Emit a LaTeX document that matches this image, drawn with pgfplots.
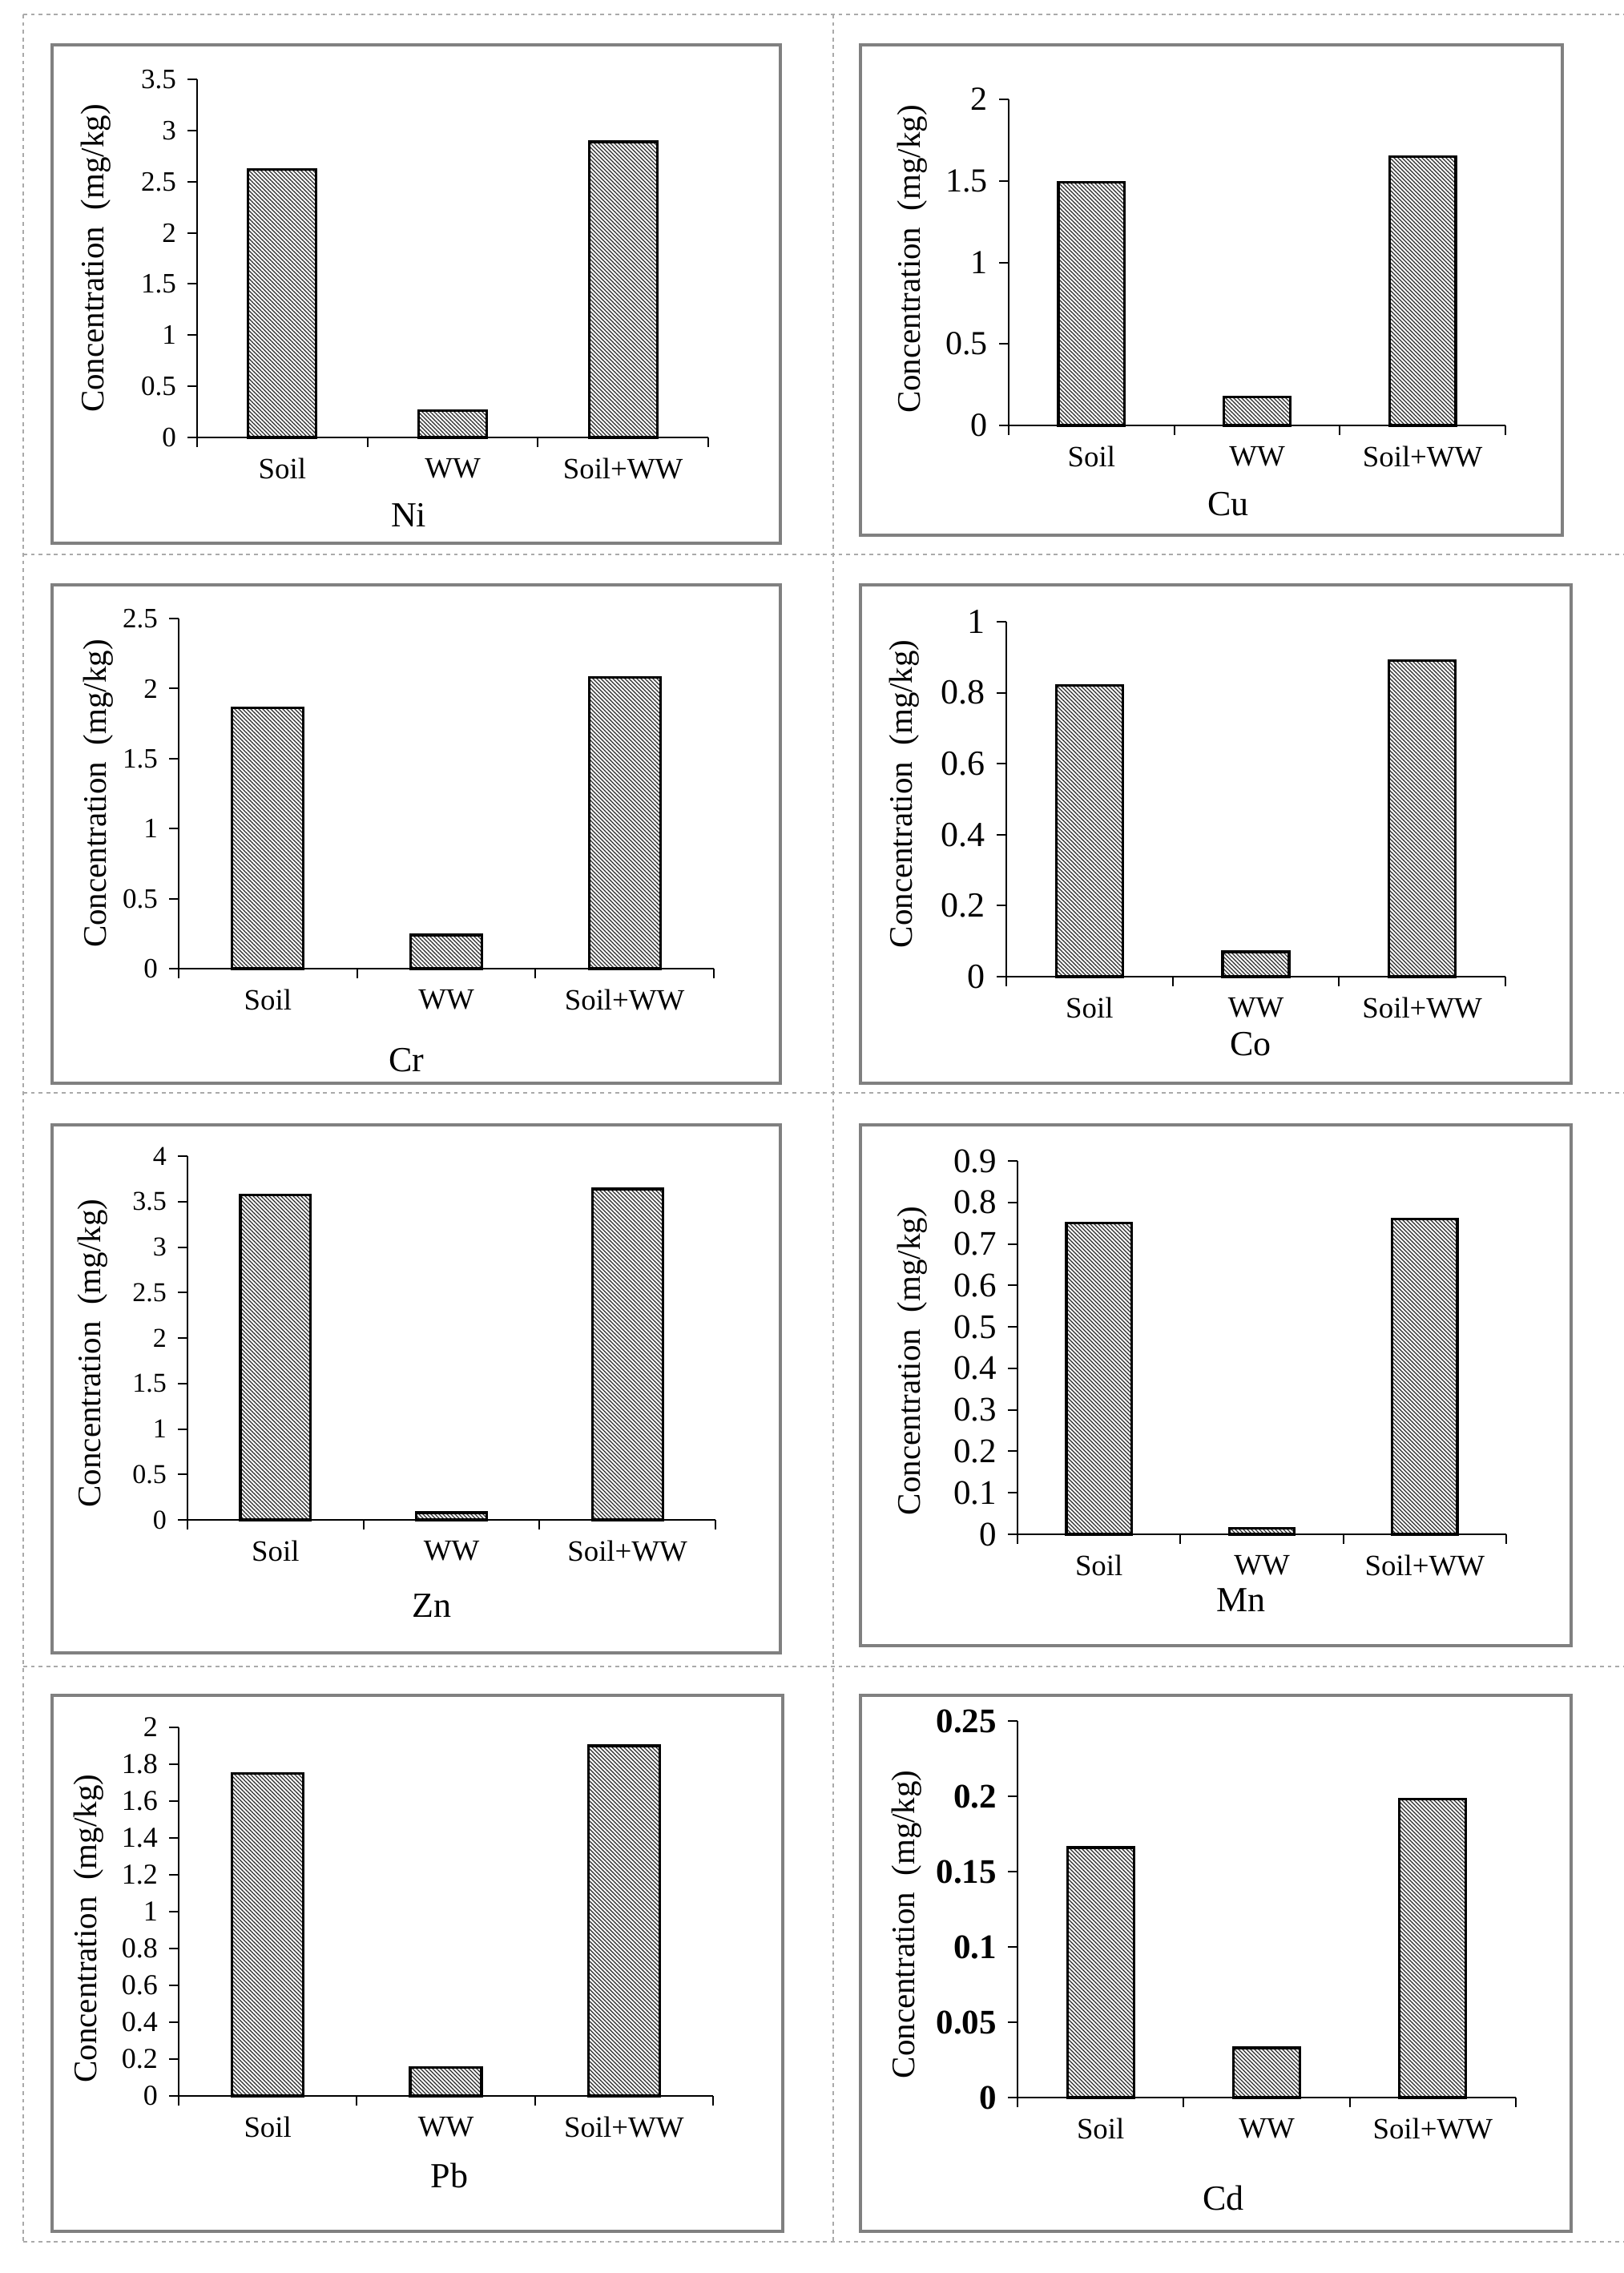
\documentclass[border=0pt]{standalone}
\usepackage{fontspec}
\setmainfont{Liberation Serif}
\usepackage{pgfplots}
\pgfplotsset{compat=1.18}
\usetikzlibrary{patterns.meta}
\definecolor{frame}{RGB}{128,128,128}
\definecolor{dotc}{RGB}{170,170,170}
\definecolor{hatchc}{RGB}{40,40,40}

\pgfplotsset{
  panel/.style={
    scale only axis, anchor=south west, clip=false,
    xmin=-0.5, xmax=2.5, ymin=0,
    axis x line*=bottom, axis y line*=left,
    axis line style={line width=0.5pt},
    xtick={0,1,2}, xticklabels={Soil,WW,Soil+WW},
    minor xtick={-0.5,0.5,1.5,2.5},
    tick align=outside,
    major tick length=3pt, minor tick length=3pt,
    tick style={black, line width=0.5pt},
    major x tick style={draw=none},
    ybar, bar width=0.4,
    scaled y ticks=false,
    /pgf/number format/assume math mode=true,
    yticklabel style={/pgf/number format/fixed, /pgf/number format/precision=2},
    xticklabel style={font=\fontsize{9.2}{11}\selectfont},
    ylabel={Concentration\ \ (mg/kg)},
    ylabel style={font=\fontsize{10.25}{12}\selectfont, anchor=center},
  },
  ytfont/.style={yticklabel style={font=\fontsize{#1}{#1}\selectfont}},
  ylab/.style 2 args={ylabel style={at={(axis description cs:#1,#2)}}},
}
\tikzset{hatch/.style={draw=black, line width=0.8pt,
  pattern={Lines[angle=-45,distance=0.8839pt,line width=0.32pt]}, pattern color=hatchc}}

\begin{document}
\begin{tikzpicture}
\useasboundingbox (0,0) rectangle (506.5pt,-709.25pt);
\fill[white] (0,0) rectangle (506.5pt,-709.25pt);
\begin{scope}[x=0.25pt,y=-0.25pt]
  % table cell lines
  \begin{scope}[draw=dotc, line width=0.35pt, dash pattern=on 1.2pt off 1.2pt]
    \draw (29,18) -- (2026,18);
    \draw (29,692) -- (2026,692);
    \draw (29,1364) -- (2026,1364);
    \draw (29,2080) -- (2026,2080);
    \draw (29,2798) -- (2026,2798);
    \draw (29,18) -- (29,2798);
    \draw (1040,18) -- (1040,2798);
  \end{scope}
  % frames
  \begin{scope}[draw=frame, line width=1pt]
    \draw (65,56) rectangle (974,678);
    \draw (1074,56) rectangle (1950,668);
    \draw (65,730) rectangle (974,1352);
    \draw (1074,730) rectangle (1961,1352);
    \draw (65,1404) rectangle (974,2063);
    \draw (1074,1404) rectangle (1961,2054);
    \draw (65,2116) rectangle (977,2785);
    \draw (1074,2116) rectangle (1961,2785);
  \end{scope}
  % axis origins
  \coordinate (ni) at (246,546);
  \coordinate (cu) at (1259,531);
  \coordinate (cr) at (223,1209);
  \coordinate (co) at (1256,1219);
  \coordinate (zn) at (234,1897);
  \coordinate (mn) at (1270,1915);
  \coordinate (pb) at (223,2616);
  \coordinate (cd) at (1270,2618);
  % element names
  \begin{scope}[every node/.style={font=\fontsize{11}{13}\selectfont}]
    \node at (510,643) {Ni};
    \node at (1533,629) {Cu};
    \node at (507,1323) {Cr};
    \node at (1561,1303) {Co};
    \node at (539,2004) {Zn};
    \node at (1549,1997) {Mn};
    \node at (561,2715) {Pb};
    \node at (1527,2743) {Cd};
  \end{scope}
\end{scope}

% Ni
\begin{axis}[panel, at={(ni)}, width=159.5pt, height=111.75pt,
  ymax=3.5, ytick={0,0.5,...,3.5}, ytfont=8.75, ylab={-0.198}{0.5}]
  \addplot[hatch] coordinates {(0,2.62) (1,0.26) (2,2.89)};
\end{axis}
% Cu
\begin{axis}[panel, at={(cu)}, width=155pt, height=101.75pt,
  ymax=2, ytick={0,0.5,...,2}, ytfont=10.5, ylab={-0.194}{0.51}]
  \addplot[hatch] coordinates {(0,1.49) (1,0.175) (2,1.65)};
\end{axis}
% Cr
\begin{axis}[panel, at={(cr)}, width=167pt, height=109.25pt,
  ymax=2.5, ytick={0,0.5,...,2.5}, ytfont=8.75, ylab={-0.150}{0.5}]
  \addplot[hatch] coordinates {(0,1.86) (1,0.24) (2,2.08)};
\end{axis}
% Co
\begin{axis}[panel, at={(co)}, width=155.75pt, height=110.75pt,
  ymax=1, ytick={0,0.2,...,1}, ytfont=11, ylab={-0.204}{0.515}]
  \addplot[hatch] coordinates {(0,0.82) (1,0.07) (2,0.89)};
\end{axis}
% Zn
\begin{axis}[panel, at={(zn)}, width=164.75pt, height=113.5pt,
  ymax=4, ytick={0,0.5,...,4}, ytfont=8.5, ylab={-0.179}{0.458}]
  \addplot[hatch] coordinates {(0,3.57) (1,0.08) (2,3.64)};
\end{axis}
% Mn
\begin{axis}[panel, at={(mn)}, width=152.5pt, height=116.5pt,
  ymax=0.9, ytick={0,0.1,...,0.9}, ytfont=10.75, ylab={-0.215}{0.464}]
  \addplot[hatch] coordinates {(0,0.75) (1,0.015) (2,0.76)};
\end{axis}
% Pb
\begin{axis}[panel, at={(pb)}, width=166.75pt, height=115pt,
  ymax=2, ytick={0,0.2,...,2}, ytfont=9, ylab={-0.169}{0.454}]
  \addplot[hatch] coordinates {(0,1.75) (1,0.155) (2,1.90)};
\end{axis}
% Cd
\begin{axis}[panel, at={(cd)}, width=155.5pt, height=117.5pt,
  ymax=0.25, ytick={0,0.05,...,0.25}, ylab={-0.222}{0.46},
  yticklabel style={font=\bfseries\fontsize{10.75}{11}\selectfont}]
  \addplot[hatch] coordinates {(0,0.166) (1,0.033) (2,0.198)};
\end{axis}
\end{tikzpicture}
\end{document}
